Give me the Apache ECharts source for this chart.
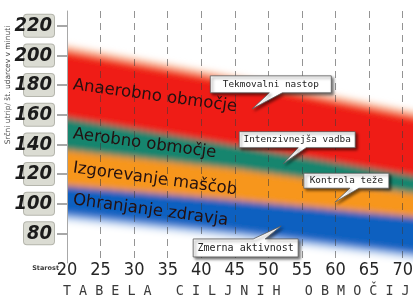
<!DOCTYPE html>
<html>
<head>
<meta charset="utf-8">
<script src="https://cdn.jsdelivr.net/npm/echarts@6/dist/echarts.min.js"></script>
<style>
html, body { margin: 0; padding: 0; background: #fff; }
#wrap { position: relative; width: 416px; height: 298px; overflow: hidden; background: #fff; }
#bands { position: absolute; left: 0; top: 0; width: 416px; height: 298px; filter: url(#vblur); }
#main { position: absolute; left: 0; top: 0; width: 416px; height: 298px; }
</style>
</head>
<body>
<svg width="0" height="0" style="position:absolute">
    <filter id="vblur" x="0" y="-10%" width="100%" height="120%">
        <feGaussianBlur stdDeviation="0.4 3" />
    </filter>
</svg>
<div id="wrap">
    <div id="bands"></div>
    <div id="main"></div>
</div>
<script>
// starost in meje območij (udarci na minuto), odčitano s slike
const ages = [20, 45, 70];
const redTop = [202, 181, 158];
const redGreen = [158, 139, 119];
const greenOrange = [136, 123, 107];
const orangeBlue = [112, 102, 91];
const blueBottom = [93, 81, 67];

const yTicks = [80, 100, 120, 140, 160, 180, 200, 220];
const zoneNames = ['Anaerobno območje', 'Aerobno območje', 'Izgorevanje maščob', 'Ohranjanje zdravja'];

const calloutText = ['Tekmovalni nastop', 'Intenzivnejša vadba', 'Kontrola teže', 'Zmerna aktivnost'];
const calloutAge = [47.6, 52.2, 59.9, 51.9];
const calloutRate = [164, 127, 101, 85];

const titleText = 'TABELA CILJNIH OBMOČIJ';

const grid = { left: 67, right: 3, top: 11, bottom: 35 };
const narrow = '"Liberation Sans Narrow", "DejaVu Sans Condensed", sans-serif';

// ---------- pasovi (zamegljeni spodnji graf) ----------
// vsaka meja zapolni vse pod seboj, višje meje se rišejo prve
const shift = (arr, d) => arr.map(v => v + d);
const levels = [
    shift(redTop, 5), shift(redTop, 2), shift(redTop, -1),
    redGreen, greenOrange, orangeBlue,
    shift(blueBottom, 1), shift(blueBottom, -2), shift(blueBottom, -5)
];
const levelColors = ['#fbcdb4', '#f4683f', '#ef1b17', '#15856e', '#f7961e', '#1160c0', '#5d95dc', '#cddff5', '#ffffff'];

const bandSeries = levels.map((lv, k) => ({
    type: 'line', symbol: 'none', silent: true,
    lineStyle: { width: 0, opacity: 0 },
    areaStyle: { color: levelColors[k], opacity: 1, origin: 'start' },
    data: ages.map((a, i) => [a, lv[i]])
}));

const bandsChart = echarts.init(document.getElementById('bands'));
bandsChart.setOption({
    animation: false,
    grid: grid,
    xAxis: { type: 'value', min: 20, max: 70, interval: 5, show: false },
    yAxis: { type: 'value', min: 60, max: 230, interval: 20, show: false },
    series: bandSeries
});

// ---------- osi, besedila, oblački ----------
const mainChart = echarts.init(document.getElementById('main'));
mainChart.setOption({
    animation: false,
    grid: grid,
    xAxis: {
        type: 'value', min: 20, max: 70, interval: 5,
        axisLine: { show: false },
        axisTick: { show: false },
        axisLabel: { fontFamily: narrow, fontSize: 18, color: '#262626', margin: -2 },
        splitLine: { show: true, lineStyle: { color: 'rgba(60,60,60,0.55)', width: 1, type: [7, 5] } }
    },
    yAxis: {
        type: 'value', min: 60, max: 230, interval: 20,
        axisLine: { show: true, lineStyle: { color: '#a8a8a8', width: 1 } },
        axisTick: { show: true, customValues: yTicks, length: 10, lineStyle: { color: '#8a8a8a', width: 1.5 } },
        splitLine: { show: false },
        axisLabel: {
            customValues: yTicks,
            margin: 13,
            fontFamily: narrow, fontSize: 20, fontStyle: 'italic', fontWeight: 'bold', color: '#1b1b1b',
            backgroundColor: '#dbdcd3', borderColor: '#b5b6ad', borderWidth: 1, borderRadius: 3,
            padding: [2, 2, 2, 2], width: 26, height: 18, lineHeight: 18, align: 'right'
        }
    },
    series: [{ type: 'scatter', data: [] }]
});

const toPx = (age, rate) => mainChart.convertToPixel({ gridIndex: 0 }, [age, rate]);

const graphics = [];

// ime osi y
graphics.push({
    type: 'text', x: 8, y: 85, rotation: Math.PI / 2, z: 100,
    style: {
        text: 'Srčni utrip/ št. udarcev v minuti', font: '7.5px "DejaVu Sans"', fill: '#4a4a4a',
        align: 'center', verticalAlign: 'middle', textAlign: 'center', textVerticalAlign: 'middle'
    }
});

// "Starost"
graphics.push({
    type: 'text', x: 59, y: 268, z: 100,
    style: {
        text: 'Starost', font: 'bold 6.5px "DejaVu Sans"', fill: '#3a3a3a',
        align: 'right', verticalAlign: 'middle', textAlign: 'right', textVerticalAlign: 'middle'
    }
});

// imena območij ob levem robu, poševno
const bandBounds = [redTop, redGreen, greenOrange, orangeBlue, blueBottom];
zoneNames.forEach((name, i) => {
    const mid = (bandBounds[i][0] + bandBounds[i + 1][0]) / 2;
    const p = toPx(20, mid);
    graphics.push({
        type: 'text', x: p[0] + 6, y: p[1], rotation: -0.133, z: 100,
        style: {
            text: name, font: '16.5px "DejaVu Sans"', fill: '#241010',
            verticalAlign: 'middle', textVerticalAlign: 'middle'
        }
    });
});

// oblački: okvir glede na konico (px) [x0, y0, x1, y1, base0, base1]
const boxes = [
    [-42, -33, 79, -16, 17, 30],
    [-44, -32, 72, -16, 15, 23],
    [-31, -29, 54, -14, 15, 24],
    [-88, 13, 17, 31, -28, -16]
];
calloutText.forEach((txt, i) => {
    const p = toPx(calloutAge[i], calloutRate[i]);
    const [x0, y0, x1, y1, b0, b1] = boxes[i];
    const pts = y0 > 0
        ? [[x0, y0], [b0, y0], [0, 0], [b1, y0], [x1, y0], [x1, y1], [x0, y1]]
        : [[x0, y0], [x1, y0], [x1, y1], [b1, y1], [0, 0], [b0, y1], [x0, y1]];
    graphics.push({
        type: 'group', x: p[0], y: p[1], z: 100,
        children: [
            {
                type: 'polygon', shape: { points: pts },
                style: {
                    fill: '#fff', stroke: '#5a5a5a', lineWidth: 0.8,
                    shadowBlur: 3, shadowOffsetX: 2, shadowOffsetY: 2, shadowColor: 'rgba(0,0,0,0.55)'
                }
            },
            {
                type: 'text', x: (x0 + x1) / 2, y: (y0 + y1) / 2,
                style: {
                    text: txt, font: (i === 3 ? '10px' : '9.4px') + ' "DejaVu Sans Mono"', fill: '#222',
                    align: 'center', verticalAlign: 'middle', textAlign: 'center', textVerticalAlign: 'middle'
                }
            }
        ]
    });
});

// naslov spodaj, razprte črke
graphics.push({
    type: 'text', x: 63, y: 292, z: 100,
    style: {
        text: titleText.split(' ').map(w => w.split('').join(' ')).join('   '),
        font: '13.4px "DejaVu Sans Mono"', fill: '#3a3a3a',
        verticalAlign: 'middle', textVerticalAlign: 'middle'
    }
});

mainChart.setOption({ graphic: graphics });
</script>
</body>
</html>
